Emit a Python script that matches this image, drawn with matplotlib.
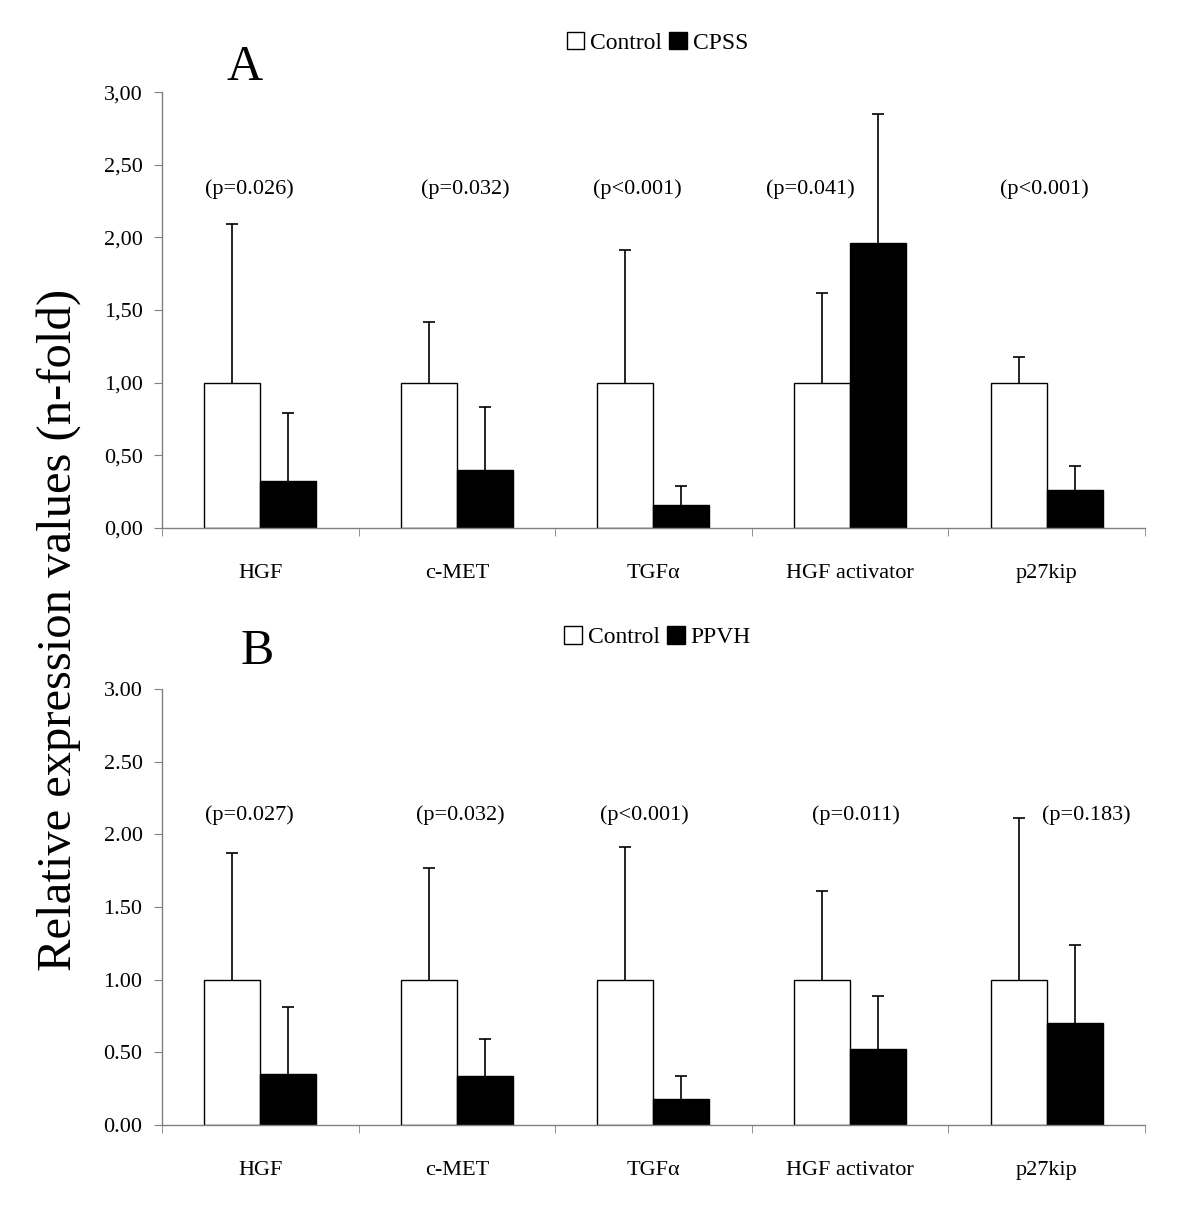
import matplotlib

matplotlib.use("Agg")
import matplotlib.pyplot as plt  # noqa: E402
import numpy as np  # noqa: E402
from matplotlib.patches import Patch  # noqa: E402

plt.rcParams["font.family"] = ["Liberation Serif", "DejaVu Serif"]

genes = ["HGF", "c-MET", "TGFα", "HGF activator", "p27kip"]

# panel A: control vs CPSS
a_control = [1.00, 1.00, 1.00, 1.00, 1.00]
a_control_top = [2.09, 1.42, 1.91, 1.62, 1.18]
a_cpss = [0.32, 0.40, 0.16, 1.96, 0.26]
a_cpss_top = [0.79, 0.83, 0.29, 2.85, 0.43]
a_pvalues = ["(p=0.026)", "(p=0.032)", "(p<0.001)", "(p=0.041)", "(p<0.001)"]
a_ticks = ["0,00", "0,50", "1,00", "1,50", "2,00", "2,50", "3,00"]

# panel B: control vs PPVH
b_control = [1.00, 1.00, 1.00, 1.00, 1.00]
b_control_top = [1.87, 1.77, 1.91, 1.61, 2.11]
b_ppvh = [0.35, 0.34, 0.18, 0.52, 0.70]
b_ppvh_top = [0.81, 0.59, 0.34, 0.89, 1.24]
b_pvalues = ["(p=0.027)", "(p=0.032)", "(p<0.001)", "(p=0.011)", "(p=0.183)"]
b_ticks = ["0.00", "0.50", "1.00", "1.50", "2.00", "2.50", "3.00"]

# where the p-value text sits, relative to each group centre
a_p_shift = [-0.057, 0.042, -0.083, -0.202, -0.011]
b_p_shift = [-0.057, 0.020, -0.045, 0.030, 0.200]

BAR_W = 0.285
AXIS_GREY = "#808080"


def upper_errorbar(ax, x, value, top):
    """Error bar drawn only above the bar, with a cap at the top end."""
    value = np.asarray(value)
    _, caps, _ = ax.errorbar(
        x, value, yerr=[np.zeros_like(value), np.asarray(top) - value],
        fmt="none", ecolor="black", elinewidth=1.2, capsize=4, capthick=1.2,
        zorder=1,
    )
    caps[0].set_visible(False)


def draw_panel(ax, control, control_top, treated, treated_top, pvalues, p_shift,
               p_level, ticks):
    x = np.arange(len(genes))
    ax.bar(x - BAR_W / 2, control, width=BAR_W, color="white", edgecolor="black",
           linewidth=1.0, zorder=2)
    ax.bar(x + BAR_W / 2, treated, width=BAR_W, color="black", edgecolor="black",
           linewidth=1.0, zorder=2)
    upper_errorbar(ax, x - BAR_W / 2, control, control_top)
    upper_errorbar(ax, x + BAR_W / 2, treated, treated_top)
    for i, label in enumerate(pvalues):
        ax.text(x[i] + p_shift[i], p_level, label, ha="center", va="center",
                fontsize=16)

    ax.set_xlim(-0.5, len(genes) - 0.5)
    ax.set_ylim(0, 3.0)
    ax.set_yticks(np.arange(0, 3.01, 0.5))
    ax.set_yticklabels(ticks, fontsize=16)
    ax.set_xticks(x)
    ax.set_xticklabels(genes, fontsize=16)
    ax.set_xticks(np.arange(-0.5, len(genes), 1.0), minor=True)
    ax.tick_params(axis="x", which="major", length=0, pad=26)
    ax.tick_params(axis="x", which="minor", length=6, color=AXIS_GREY)
    ax.tick_params(axis="y", length=6, color=AXIS_GREY, pad=8)
    for side in ("top", "right"):
        ax.spines[side].set_visible(False)
    for side in ("left", "bottom"):
        ax.spines[side].set_color(AXIS_GREY)
        ax.spines[side].set_linewidth(1.0)


fig = plt.figure(figsize=(12, 12.16), dpi=100)
ax_a = fig.add_axes([0.135, 0.5658, 0.819, 0.3585])
ax_b = fig.add_axes([0.135, 0.0748, 0.819, 0.3586])

draw_panel(ax_a, a_control, a_control_top, a_cpss, a_cpss_top, a_pvalues,
           a_p_shift, 2.33, a_ticks)
draw_panel(ax_b, b_control, b_control_top, b_ppvh, b_ppvh_top, b_pvalues,
           b_p_shift, 2.13, b_ticks)

fig.text(0.204, 0.944, "A", fontsize=36, ha="center", va="center")
fig.text(0.214, 0.464, "B", fontsize=36, ha="center", va="center")
fig.text(0.049, 0.482, "Relative expression values (n-fold)", fontsize=35,
         rotation=90, ha="center", va="center")

for ax, name, ypos in ((ax_a, "CPSS", 0.965), (ax_b, "PPVH", 0.476)):
    handles = [Patch(facecolor="white", edgecolor="black", linewidth=1.0),
               Patch(facecolor="black", edgecolor="black", linewidth=1.0)]
    fig.legend(handles, ["Control", name], loc="center", ncol=2,
               bbox_to_anchor=(0.548, ypos), frameon=False, fontsize=17,
               handlelength=0.75, handleheight=0.75, handletextpad=0.25,
               columnspacing=0.3)

fig.savefig("out.png", dpi=100)
plt.close(fig)
